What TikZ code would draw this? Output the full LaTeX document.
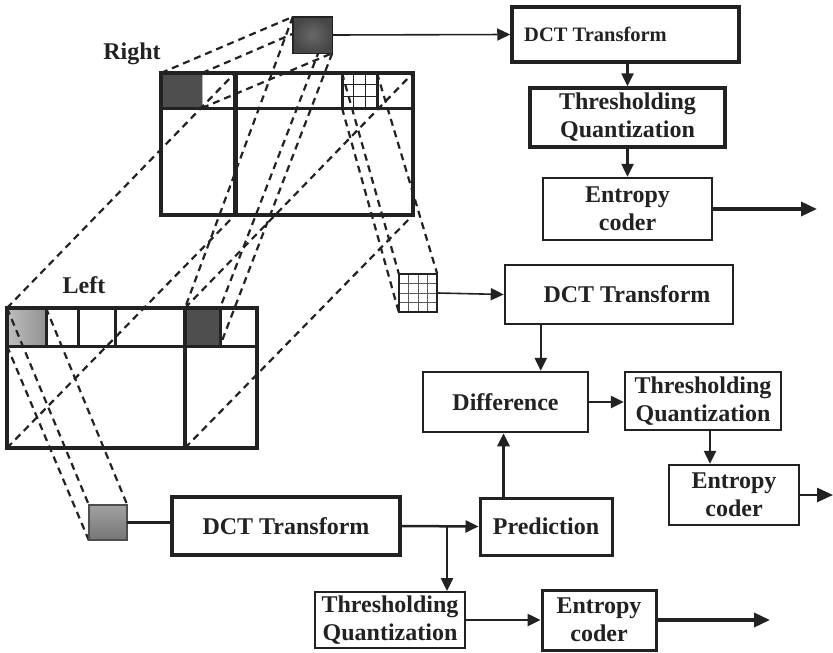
\documentclass[tikz,border=0pt]{standalone}
\usepackage{fontspec}
\setmainfont{Liberation Serif}
\usetikzlibrary{arrows.meta}
\definecolor{ink}{HTML}{222222}
\definecolor{darkcell}{HTML}{4E4E4E}
\definecolor{lightcell}{HTML}{A2A2A2}
\definecolor{midsq}{HTML}{8A8A8A}
\begin{document}
\begin{tikzpicture}[x=1pt,y=-1pt,
  blk/.style={draw=ink, fill=white, align=center, inner sep=0pt, text=ink,
     font=\fontsize{24}{28}\selectfont\bfseries},
  dsh/.style={draw=ink, line width=2.2pt, dash pattern=on 7pt off 5pt},
  arr/.style={draw=ink, line width=2.5pt, -{Triangle[length=13pt,width=12pt]}},
  arrthin/.style={draw=ink, line width=1.6pt, -{Triangle[length=13pt,width=12pt]}},
  arrout/.style={draw=ink, line width=3.5pt, -{Triangle[length=16pt,width=14pt]}},
  gridln/.style={draw=ink, line width=1.2pt},
  lbl/.style={text=ink, font=\fontsize{24}{28}\selectfont\bfseries}
]
\useasboundingbox (0,0) rectangle (833,653);
\fill[white] (0,0) rectangle (833,653);

% ---------- Right frame ----------
\coordinate (RTL) at (161,73);  \coordinate (RTR) at (413,73);
\coordinate (RBL) at (161,215); \coordinate (RBR) at (413,215);
\coordinate (RdivT) at (235,73); \coordinate (RdivB) at (235,215);
\coordinate (RrowL) at (161,108); \coordinate (RrowR) at (413,108);
\coordinate (RdkTR) at (202,73); \coordinate (RdkBR) at (202,108);
\coordinate (RgTL) at (342,73); \coordinate (RgBL) at (342,108);
\coordinate (RgTR) at (377,73); \coordinate (RgBR) at (377,108);
\fill[darkcell] (RTL) rectangle (RdkBR);
\draw[gray!60, line width=1pt] (RdkTR) -- (RdkBR);
\foreach \xx in {353.7,365.3} \draw[gridln] (\xx,73) -- (\xx,108);
\foreach \yy in {84.7,96.3} \draw[gridln] (342,\yy) -- (377,\yy);

% ---------- Left frame ----------
\coordinate (LTL) at (7,308);  \coordinate (LTR) at (257,308);
\coordinate (LBL) at (7,448);  \coordinate (LBR) at (257,448);
\coordinate (LdivT) at (185,308); \coordinate (LdivB) at (185,448);
\coordinate (LrowL) at (7,346); \coordinate (LrowR) at (257,346);
\coordinate (LltTR) at (46,308); \coordinate (LltBR) at (46,346);
\coordinate (LdkTR) at (220,308); \coordinate (LdkBR) at (220,346);
\shade[left color=lightcell!70, right color=lightcell!90!black] (LTL) rectangle (LltBR);
\fill[darkcell] (LdivT) rectangle (LdkBR);

% ---------- squares (named) ----------
\node[minimum width=39pt, minimum height=36pt, inner sep=0pt] (sqT) at (312.5,35) {};
\node[minimum width=38pt, minimum height=38pt, inner sep=0pt] (sqG) at (418,293) {};
\node[minimum width=38pt, minimum height=35pt, inner sep=0pt] (sqB) at (108,522.5) {};

% ---------- dashed projection lines ----------
\draw[dsh] (RTL) -- (sqT.north west);
\draw[dsh] (RdkTR) -- (sqT.north east);
\draw[dsh] (RdkBR) -- (sqT.south east);
\draw[dsh] (LTL) -- (RdivT);
\draw[dsh] (LBL) -- (RdivB);
\draw[dsh] (LdivB) -- (RBR);
\draw[dsh] (LdivT) -- (RTR);
\draw[dsh] (sqT.north west) -- (LdivT);
\draw[dsh] (sqT.north east) -- (LdkTR);
\draw[dsh] (sqT.south east) -- (LdkBR);
\draw[dsh] (RgTL) -- (sqG.north west);
\draw[dsh] (RgBL) -- (sqG.south west);
\draw[dsh] (RgTR) -- (sqG.north east);
\draw[dsh] (LTL) -- (sqB.north west);
\draw[dsh] (LrowL) -- (sqB.south west);
\draw[dsh] (LltTR) -- (sqB.north east);

% ---------- frame outlines ----------
\draw[ink, line width=3.5pt] (RTL) rectangle (RBR);
\draw[ink, line width=3pt] (RrowL) -- (RrowR);
\draw[ink, line width=5pt] (RdivT) -- (RdivB);
\draw[ink, line width=3pt] (RgTL) -- (RgBL) (RgTR) -- (RgBR);

\draw[ink, line width=3.5pt] (LTL) rectangle (LBR);
\draw[ink, line width=3pt] (LrowL) -- (LrowR);
\draw[ink, line width=4pt] (LdivT) -- (LdivB);
\draw[ink, line width=3pt] (LltTR) -- (LltBR) (78,308) -- (78,346) (115,308) -- (115,346) (LdkTR) -- (LdkBR);

% ---------- the three blocks drawn on top ----------
\shade[inner color=darkcell!85!white, outer color=darkcell!90!black, shading=radial] (sqT.north west) rectangle (sqT.south east);
\draw[ink, line width=1.4pt] (sqT.north west) rectangle (sqT.south east);
\fill[white] (sqG.north west) rectangle (sqG.south east);
\foreach \xx in {408.5,418,427.5} \draw[gray!70!black, line width=1pt] (\xx,274) -- (\xx,312);
\foreach \yy in {283.5,293,302.5} \draw[gray!70!black, line width=1pt] (399,\yy) -- (437,\yy);
\draw[ink, line width=1.8pt] (sqG.north west) rectangle (sqG.south east);
\shade[top color=midsq!80, bottom color=midsq!85!black] (sqB.north west) rectangle (sqB.south east);
\draw[ink!80, line width=1.8pt] (sqB.north west) rectangle (sqB.south east);

\node[lbl] (lR) at (132,54) {Right};
\node[lbl] (lL) at (84,285) {Left};

% ---------- top chain ----------
\node[blk, line width=3.5pt, minimum width=227pt, minimum height=55pt, font=\fontsize{20.5}{24}\selectfont\bfseries] (dct1) at (625.5,34.5) {DCT Transform\hspace*{60pt}};
\node[blk, line width=3.5pt, minimum width=195pt, minimum height=59pt] (thr1) at (627.5,117.5) {Thresholding\\Quantization};
\node[blk, line width=2.5pt, minimum width=169pt, minimum height=62pt] (ent1) at (627.5,209) {Entropy\\coder};
\coordinate (out1) at (817,209);
\draw[arrthin] (sqT.east) -- (dct1.west);
\draw[arr] (thr1.north |- dct1.south) -- (thr1.north);
\draw[arr] (thr1.south) -- (ent1.north);
\draw[arrout] (ent1.east) -- (out1);

% ---------- middle chain ----------
\node[blk, line width=2.5pt, minimum width=228pt, minimum height=59pt] (dct2) at (619,294.5) {\hspace*{16pt}DCT Transform};
\node[blk, line width=2.5pt, minimum width=165pt, minimum height=60pt] (diff) at (505.5,402) {Difference};
\node[blk, line width=2.5pt, minimum width=156pt, minimum height=58pt] (thr2) at (703,401) {Thresholding\\Quantization};
\node[blk, line width=2.5pt, minimum width=130pt, minimum height=60pt] (ent2) at (734,495) {Entropy\\coder};
\node[blk, line width=3pt, minimum width=132pt, minimum height=57pt] (pred) at (546,526.5) {Prediction};
\coordinate (out2) at (833,495);
\draw[arrthin] (sqG.east) -- (dct2.west);
\draw[arr] ([xshift=37pt]dct2.south west) -- ([xshift=37pt]dct2.south west |- diff.north);
\draw[arr] (diff.east) -- (diff.east -| thr2.west);
\draw[arr] ([xshift=7pt]thr2.south) -- ([xshift=7pt]thr2.south |- ent2.north);
\draw[arrout, line width=2.5pt] (ent2.east) -- (out2);
\draw[arr, line width=3pt] ([xshift=25pt]pred.north west) -- ([xshift=25pt]pred.north west |- diff.south);

% ---------- bottom chain ----------
\node[blk, line width=3.5pt, minimum width=228pt, minimum height=58pt] (dct3) at (286,526) {DCT Transform};
\node[blk, line width=2pt, minimum width=150pt, minimum height=56pt] (thr3) at (390,620) {Thresholding\\Quantization};
\node[blk, line width=3pt, minimum width=114pt, minimum height=60pt] (ent3) at (599,620) {Entropy\\coder};
\coordinate (br) at (447,526);
\coordinate (out3) at (770,620);
\draw[ink, line width=3pt] (sqB.east) -- (sqB.east -| dct3.west);
\draw[arr] (dct3.east) -- (pred.west);
\draw[arr] (br) -- (br |- thr3.north);
\draw[arr] (thr3.east) -- (ent3.west);
\draw[arrout] (ent3.east) -- (out3);
\end{tikzpicture}
\end{document}
